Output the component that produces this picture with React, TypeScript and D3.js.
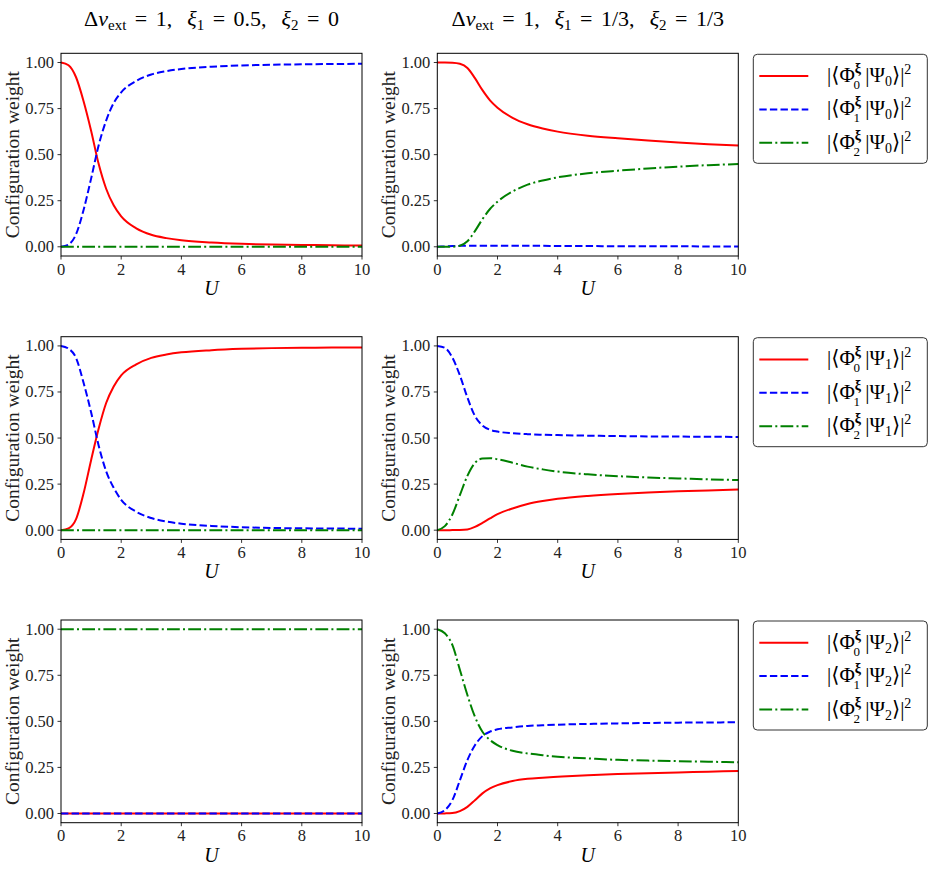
import React from 'react';
import * as d3 from 'd3';

// interaction strength grid
const U = [0, 0.25, 0.5, 0.75, 1, 1.25, 1.5, 1.75, 2, 2.5, 3, 3.5, 4, 5, 6, 7, 8, 9, 10];

// xi = (0.5, 0), state Psi_0
const halfPsi0Phi0 = [1.0, 0.985, 0.92, 0.79, 0.63, 0.45, 0.315, 0.225, 0.165, 0.1, 0.065, 0.047, 0.035, 0.023, 0.016, 0.012, 0.01, 0.008, 0.007];
const halfPsi0Phi1 = [0, 0.012, 0.068, 0.2, 0.37, 0.55, 0.685, 0.78, 0.838, 0.9, 0.935, 0.953, 0.965, 0.977, 0.984, 0.988, 0.99, 0.992, 0.993];
const halfPsi0Phi2 = [0, 0, 0, 0, 0, 0, 0, 0, 0, 0, 0, 0, 0, 0, 0, 0, 0, 0, 0];

// xi = (1/3, 1/3), state Psi_0
const thirdPsi0Phi0 = [1.0, 1.0, 0.999, 0.993, 0.97, 0.915, 0.85, 0.795, 0.755, 0.7, 0.665, 0.642, 0.625, 0.603, 0.589, 0.577, 0.566, 0.557, 0.549];
const thirdPsi0Phi1 = [0, 0.002, 0.004, 0.005, 0.006, 0.006, 0.006, 0.006, 0.006, 0.005, 0.005, 0.005, 0.004, 0.004, 0.003, 0.003, 0.003, 0.002, 0.002];
const thirdPsi0Phi2 = [0, 0, 0.0005, 0.006, 0.03, 0.085, 0.15, 0.205, 0.245, 0.3, 0.337, 0.36, 0.377, 0.399, 0.413, 0.425, 0.435, 0.443, 0.449];

// xi = (0.5, 0), state Psi_1
const halfPsi1Phi0 = [0, 0.01, 0.06, 0.2, 0.38, 0.55, 0.69, 0.78, 0.84, 0.9, 0.935, 0.953, 0.965, 0.977, 0.984, 0.988, 0.99, 0.991, 0.992];
const halfPsi1Phi1 = [1.0, 0.985, 0.935, 0.8, 0.64, 0.46, 0.32, 0.23, 0.165, 0.1, 0.066, 0.047, 0.035, 0.023, 0.016, 0.012, 0.01, 0.009, 0.008];
const halfPsi1Phi2 = [0, 0, 0, 0, 0, 0, 0, 0, 0, 0, 0, 0, 0, 0, 0, 0, 0, 0, 0];

// xi = (1/3, 1/3), state Psi_1
const thirdPsi1Phi0 = [0, 0, 0.0005, 0.001, 0.004, 0.018, 0.04, 0.064, 0.087, 0.118, 0.142, 0.158, 0.17, 0.186, 0.197, 0.205, 0.211, 0.216, 0.221];
const thirdPsi1Phi1 = [1.0, 0.99, 0.937, 0.84, 0.72, 0.62, 0.568, 0.545, 0.535, 0.526, 0.521, 0.518, 0.516, 0.513, 0.511, 0.509, 0.508, 0.507, 0.506];
const thirdPsi1Phi2 = [0, 0.022, 0.085, 0.19, 0.295, 0.365, 0.389, 0.391, 0.385, 0.366, 0.345, 0.33, 0.318, 0.303, 0.293, 0.286, 0.281, 0.276, 0.272];

// xi = (0.5, 0), state Psi_2
const halfPsi2Phi0 = [0, 0, 0, 0, 0, 0, 0, 0, 0, 0, 0, 0, 0, 0, 0, 0, 0, 0, 0];
const halfPsi2Phi1 = [0, 0, 0, 0, 0, 0, 0, 0, 0, 0, 0, 0, 0, 0, 0, 0, 0, 0, 0];
const halfPsi2Phi2 = [1, 1, 1, 1, 1, 1, 1, 1, 1, 1, 1, 1, 1, 1, 1, 1, 1, 1, 1];

// xi = (1/3, 1/3), state Psi_2
const thirdPsi2Phi0 = [0, 0.0005, 0.002, 0.013, 0.036, 0.072, 0.109, 0.136, 0.154, 0.176, 0.188, 0.194, 0.199, 0.208, 0.214, 0.219, 0.223, 0.227, 0.231];
const thirdPsi2Phi1 = [0, 0.018, 0.072, 0.18, 0.29, 0.37, 0.42, 0.444, 0.457, 0.467, 0.475, 0.479, 0.482, 0.486, 0.489, 0.491, 0.493, 0.494, 0.495];
const thirdPsi2Phi2 = [1.0, 0.978, 0.915, 0.78, 0.643, 0.525, 0.444, 0.399, 0.371, 0.34, 0.326, 0.316, 0.308, 0.299, 0.291, 0.287, 0.284, 0.281, 0.278];

const xTicks = [0, 2, 4, 6, 8, 10];
const yTicks = [0, 0.25, 0.5, 0.75, 1];

const colors = ['#ff0000', '#0000ff', '#008000'];
const dashes = [undefined, '7.4,3.2', '12.8,3.2,2,3.2'];

const panels = [
  { row: 0, col: 0, series: [halfPsi0Phi0, halfPsi0Phi1, halfPsi0Phi2] },
  { row: 0, col: 1, series: [thirdPsi0Phi0, thirdPsi0Phi1, thirdPsi0Phi2] },
  { row: 1, col: 0, series: [halfPsi1Phi0, halfPsi1Phi1, halfPsi1Phi2] },
  { row: 1, col: 1, series: [thirdPsi1Phi0, thirdPsi1Phi1, thirdPsi1Phi2] },
  { row: 2, col: 0, series: [halfPsi2Phi0, halfPsi2Phi1, halfPsi2Phi2] },
  { row: 2, col: 1, series: [thirdPsi2Phi0, thirdPsi2Phi1, thirdPsi2Phi2] },
];

const colX = [61, 437.3];
const rowY = [53.3, 336.7, 620];
const W = 301;
const H = 202.7;

const serif = '"Liberation Serif", "DejaVu Serif", serif';
const nb = '\u00a0';

const x = d3.scaleLinear().domain([0, 10]).range([0, W]);
const y = d3.scaleLinear().domain([-0.05, 1.05]).range([H, 0]);
const line = d3.line<number>()
  .x((_, i) => x(U[i]))
  .y(d => y(d))
  .curve(d3.curveMonotoneX);

// "=" and "," spacing done with dx shifts instead of space glyphs
const Eq = ({ rhs }: { rhs: string }) => (
  <>
    <tspan dx={8.5} dy={-4}>=</tspan>
    <tspan dx={8.5}>{rhs}</tspan>
  </>
);

const Title = ({ cx, xi1, xi2 }: { cx: number; xi1: string; xi2: string }) => (
  <text x={cx} y={26} textAnchor="middle" fontSize={22} fontFamily={serif}>
    <tspan>Δ</tspan>
    <tspan fontStyle="italic">v</tspan>
    <tspan fontSize={15} dy={4}>ext</tspan>
    <Eq rhs="1," />
    <tspan dx={15} fontStyle="italic">ξ</tspan>
    <tspan fontSize={15} dy={4}>1</tspan>
    <Eq rhs={`${xi1},`} />
    <tspan dx={15} fontStyle="italic">ξ</tspan>
    <tspan fontSize={15} dy={4}>2</tspan>
    <Eq rhs={xi2} />
  </text>
);

const Legend = ({ top, psi }: { top: number; psi: number }) => {
  const left = 753.3;
  return (
    <g>
      <rect x={left} y={top} width={174} height={109} rx={4} fill="white" fillOpacity={0.8} stroke="#333" strokeWidth={1} />
      {[0, 1, 2].map(k => {
        const cy = top + 21.7 + k * 33.4;
        return (
          <g key={k}>
            <line x1={759.3} x2={808.3} y1={cy} y2={cy} stroke={colors[k]} strokeWidth={2} strokeDasharray={dashes[k]} />
            <text x={827} y={cy + 6} fontSize={21} fontFamily={serif}>
              <tspan>{`|⟨Φ`}</tspan>
              <tspan fontSize={14} fontWeight="bold" dy={-9}>ξ</tspan>
              <tspan fontSize={13} dx={-7.5} dy={16}>{k}</tspan>
              <tspan dy={-7}>{`${nb}|Ψ`}</tspan>
              <tspan fontSize={14} dy={4}>{psi}</tspan>
              <tspan dy={-4}>{`⟩|`}</tspan>
              <tspan fontSize={14} dy={-8}>2</tspan>
            </text>
          </g>
        );
      })}
    </g>
  );
};

const Panel = ({ row, col, series }: { row: number; col: number; series: number[][] }) => {
  const x0 = colX[col];
  const y0 = rowY[row];
  return (
    <g transform={`translate(${x0},${y0})`}>
      {series.map((s, k) => (
        <path key={k} d={line(s) || ''} fill="none" stroke={colors[k]} strokeWidth={2} strokeDasharray={dashes[k]} />
      ))}
      <rect x={0} y={0} width={W} height={H} fill="none" stroke="#000" strokeWidth={1} />
      {xTicks.map(t => (
        <g key={t} transform={`translate(${x(t)},${H})`}>
          <line y2={3.5} stroke="#000" strokeWidth={0.8} />
          <text y={18.5} textAnchor="middle" fontSize={16.5} fontFamily={serif} fill="#222">{t}</text>
        </g>
      ))}
      {yTicks.map(t => (
        <g key={t} transform={`translate(0,${y(t)})`}>
          <line x2={-3.5} stroke="#000" strokeWidth={0.8} />
          <text x={-7} y={5.5} textAnchor="end" fontSize={16.5} fontFamily={serif} fill="#222">{t.toFixed(2)}</text>
        </g>
      ))}
      <text x={W / 2} y={H + 39} textAnchor="middle" fontSize={20} fontStyle="italic" fontFamily={serif}>U</text>
      <text transform={`translate(${-42},${H / 2}) rotate(-90)`} textAnchor="middle" fontSize={19.5} fontFamily={serif} fill="#222">
        Configuration weight
      </text>
    </g>
  );
};

export default function App() {
  return (
    <svg width={934} height={871} style={{ position: 'absolute', left: 0, top: 0, background: 'white' }}>
      <Title cx={211.5} xi1="0.5" xi2="0" />
      <Title cx={587.8} xi1="1/3" xi2="1/3" />
      {panels.map((p, i) => (
        <Panel key={i} row={p.row} col={p.col} series={p.series} />
      ))}
      {rowY.map((top, r) => (
        <Legend key={r} top={top + 1} psi={r} />
      ))}
    </svg>
  );
}
